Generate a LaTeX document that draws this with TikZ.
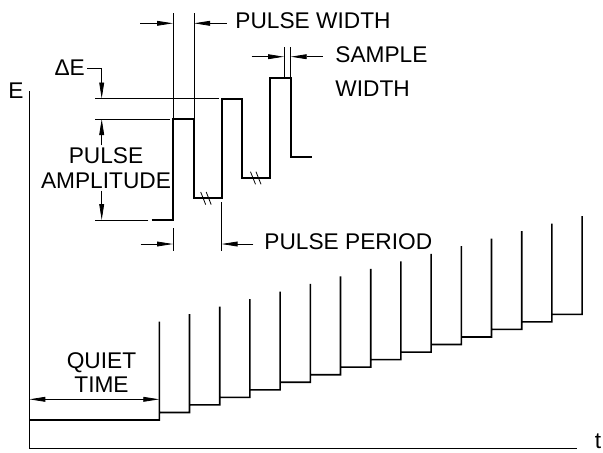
\documentclass[tikz,border=0pt]{standalone}
\usepackage{fontspec}
\setmainfont{Liberation Sans}
\usetikzlibrary{arrows.meta}

\begin{document}
\begin{tikzpicture}[
  x=0.5pt, y=-0.5pt,
  wave/.style={line width=1pt},
  stair/.style={line width=0.8pt},
  axis/.style={line width=0.5pt},
  ext/.style={line width=0.4pt},
  dim/.style={-{Triangle[length=8pt, width=2.4pt]}, line width=0.4pt},
  dimboth/.style={{Triangle[length=8pt, width=2.4pt]}-{Triangle[length=8pt, width=2.4pt]}, line width=0.4pt},
  lbl/.style={font=\fontsize{11.35}{12.3}\selectfont, inner sep=1pt, align=center},
  brkmark/.pic={\draw[ext] (-5,-6.3) -- (0,6.3) (0.5,-6.3) -- (5.5,6.3);}
]
\useasboundingbox (0,0) rectangle (603,452);

% Axes
\coordinate (org) at (29.3,448.3);
\coordinate (ytop) at (29.3,91);
\coordinate (xend) at (577,448.3);
\draw[axis] (ytop) -- (org) -- (xend);
\node[lbl, anchor=base] (elbl) at (16,98.3) {E};
\node[lbl, anchor=base] (tlbl) at (598,448.3) {t};

% Staircase
\coordinate (st0) at (29.3,420);
\coordinate (st1) at (159.3,420);
\draw[stair] (st0) foreach \k in {0,...,14} {
  -- ({159.3+30.2*\k},{420-7.55*\k}) -- ++(0,-98.3) -- ++(0,90.75)};

% Quiet time
\coordinate (qtl) at (29.3,399.3);
\draw[dimboth] (qtl) -- (st1 |- qtl);
\node[lbl] (quiet) at (101.5,372.5) {QUIET\\TIME};

% Pulse detail
\coordinate (s0) at (151.7,220);
\coordinate (a1) at (173,220);
\coordinate (a2) at (173,119);
\coordinate (a3) at (194,119);
\coordinate (a4) at (194,198.3);
\coordinate (b1) at (221.5,198.3);
\coordinate (b2) at (221.5,98.5);
\coordinate (b3) at (242.3,98.5);
\coordinate (b4) at (242.3,178);
\coordinate (c1) at (270,178);
\coordinate (c2) at (270,77.7);
\coordinate (c3) at (290.7,77.7);
\coordinate (c4) at (290.7,156.7);
\coordinate (e0) at (311.7,156.7);
\draw[wave] (s0) -- (a1) -- (a2) -- (a3) -- (a4) -- (b1) -- (b2) -- (b3)
  -- (b4) -- (c1) -- (c2) -- (c3) -- (c4) -- (e0);
\pic at (205.7,198.3) {brkmark};
\pic at (255.5,178) {brkmark};

% Pulse width
\draw[ext] (a2) -- ++(0,-105.7);
\draw[ext] (a3) -- ++(0,-105.7);
\coordinate (pwl) at (140,23.3);
\coordinate (pwr) at (226.7,23.3);
\draw[dim] (pwl) -- (a2 |- pwl);
\draw[dim] (pwr) -- (a3 |- pwr);
\node[lbl, anchor=west] (pwtxt) at (233,21) {PULSE WIDTH};

% Sample width
\coordinate (smp) at (284,77.7);
\draw[ext] (smp) -- ++(0,-31);
\draw[ext] (c3) -- ++(0,-31);
\coordinate (swl) at (251.7,56.7);
\coordinate (swr) at (322.7,56.7);
\draw[dim] (swl) -- (smp |- swl);
\draw[dim] (swr) -- (c3 |- swr);
\node[lbl, anchor=west] (swtxt) at (333,55) {SAMPLE};
\node[lbl, anchor=west] (swtxt2) at (333,88.3) {WIDTH};

% Delta E and amplitude
\coordinate (extl) at (95,0);
\coordinate (dimx) at (101.7,0);
\draw[ext] ([xshift=-1.2pt]b2) -- (b2 -| extl);
\draw[ext] ([xshift=-1.5pt]a2) -- (a2 -| extl);
\draw[ext] ([xshift=-1.7pt]s0) -- (s0 -| extl);
\node[lbl] (de) at (69.7,68) {ΔE};
\draw[dim] (de.east) -| (b2 -| dimx);
\node[lbl] (amp) at (106,168) {PULSE\\AMPLITUDE};
\draw[dim] (amp.north -| dimx) -- (a2 -| dimx);
\draw[dim] (amp.south -| dimx) -- (s0 -| dimx);

% Pulse period
\draw[ext] ([yshift=-4pt]a1) -- ++(0,23);
\draw[ext] ([yshift=-2pt]b1) -- ++(0,48.7);
\coordinate (ppl) at (140.7,244);
\coordinate (ppr) at (253.3,244);
\draw[dim] (ppl) -- (a1 |- ppl);
\draw[dim] (ppr) -- (b1 |- ppr);
\node[lbl, anchor=west] (pptxt) at (262,241.5) {PULSE PERIOD};

\end{tikzpicture}
\end{document}
